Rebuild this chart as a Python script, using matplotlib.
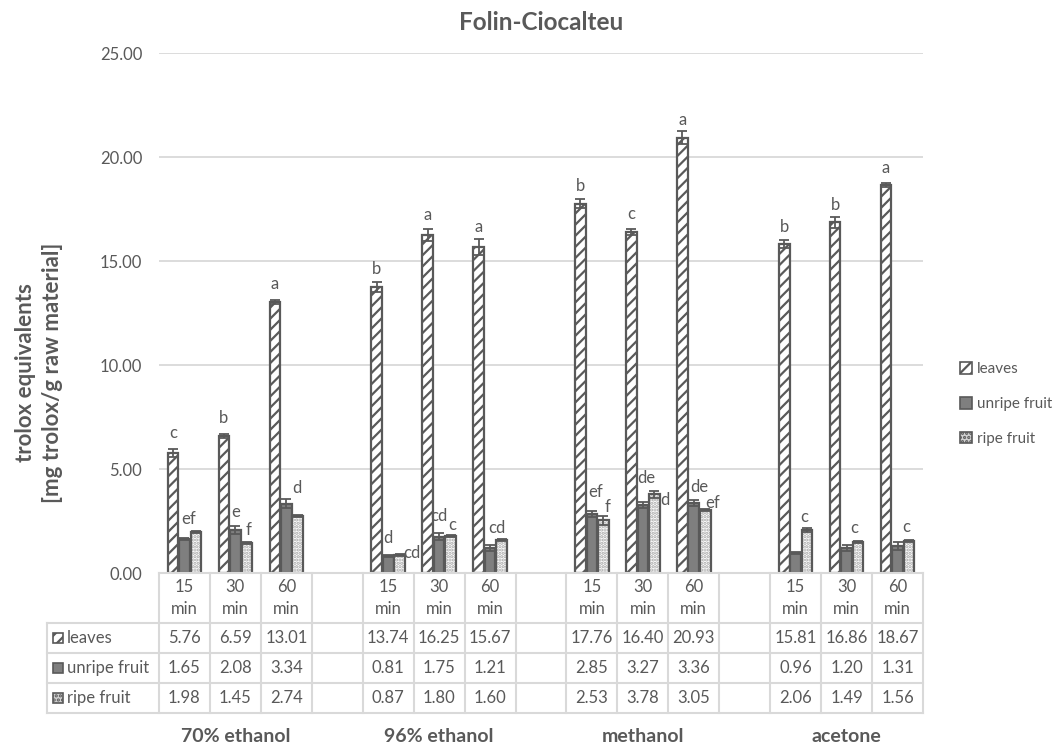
import numpy as np
import matplotlib
matplotlib.use('Agg')
import matplotlib.pyplot as plt
from matplotlib.patches import Patch, Rectangle
from matplotlib.lines import Line2D
from matplotlib import transforms

# data
solvents = ['70% ethanol', '96% ethanol', 'methanol', 'acetone']
times = ['15\nmin', '30\nmin', '60\nmin']
series = ['leaves', 'unripe fruit', 'ripe fruit']

leaves = [5.76, 6.59, 13.01, 13.74, 16.25, 15.67, 17.76, 16.40, 20.93, 15.81, 16.86, 18.67]
unripe = [1.65, 2.08, 3.34, 0.81, 1.75, 1.21, 2.85, 3.27, 3.36, 0.96, 1.20, 1.31]
ripe = [1.98, 1.45, 2.74, 0.87, 1.80, 1.60, 2.53, 3.78, 3.05, 2.06, 1.49, 1.56]

leaves_sd = [0.2, 0.1, 0.1, 0.25, 0.3, 0.38, 0.2, 0.15, 0.3, 0.2, 0.25, 0.1]
unripe_sd = [0.05, 0.2, 0.2, 0.05, 0.15, 0.15, 0.15, 0.15, 0.15, 0.05, 0.15, 0.2]
ripe_sd = [0.05, 0.05, 0.05, 0.05, 0.05, 0.05, 0.2, 0.16, 0.05, 0.1, 0.05, 0.05]

# (sample index, series index, letter, x shift, y shift above error bar)
sig_letters = [
    (0, 0, 'c', 0, 0.75), (0, 1, 'ef', 0.09, 0.9),
    (1, 0, 'b', 0, 0.75), (1, 1, 'e', 0, 0.65), (1, 2, 'f', 0.04, 0.55),
    (2, 0, 'a', 0, 0.8), (2, 1, 'd', 0.2, 0.55),
    (3, 0, 'b', 0, 0.63), (3, 1, 'd', 0, 0.8), (3, 2, 'cd', 0.235, 0.05),
    (4, 0, 'a', 0, 0.66), (4, 1, 'cd', 0, 0.84), (4, 2, 'c', 0.04, 0.46),
    (5, 0, 'a', 0, 0.58), (5, 2, 'cd', -0.1, 0.5),
    (6, 0, 'b', 0, 0.65), (6, 1, 'ef', 0.07, 0.89), (6, 2, 'f', 0.08, 0.42),
    (7, 0, 'c', 0, 0.71), (7, 1, 'de', 0.07, 1.15), (7, 2, 'd', 0.2, -0.45),
    (8, 0, 'a', 0, 0.55), (8, 1, 'de', 0.1, 0.62), (8, 2, 'ef', 0.14, 0.27),
    (9, 0, 'b', 0, 0.62), (9, 2, 'c', -0.06, 0.53),
    (10, 0, 'b', 0, 0.58), (10, 2, 'c', -0.08, 0.62),
    (11, 0, 'a', 0, 0.7), (11, 2, 'c', -0.06, 0.6),
]

plt.rcParams['font.family'] = ['Lato', 'DejaVu Sans']
plt.rcParams['hatch.linewidth'] = 1.6
txt = '#595959'
dark = '#595959'
grid = '#d9d9d9'

W, H = 1056, 753
fig = plt.figure(figsize=(W / 100, H / 100), dpi=100)
ax = fig.add_axes([159 / W, 1 - 573 / H, (923 - 159) / W, 520 / H])

# positions: 3 times per solvent + one empty slot between solvents
pos = np.array([s * 4 + t for s in range(len(solvents)) for t in range(len(times))])
vals = [leaves, unripe, ripe]
sds = [leaves_sd, unripe_sd, ripe_sd]
offs = [-0.225, 0.0, 0.225]
bw = 0.21

ax.bar(pos + offs[0], leaves, bw, color='white', edgecolor=dark, hatch='///', linewidth=1.6, zorder=2)
ax.bar(pos + offs[1], unripe, bw, color='#7f7f7f', edgecolor=dark, linewidth=1.6, zorder=2)
ax.bar(pos + offs[2], ripe, bw, color='white', edgecolor='#a6a6a6', hatch='.....', linewidth=0, zorder=2)
ax.bar(pos + offs[2], ripe, bw, color='none', edgecolor=dark, linewidth=1.6, zorder=2)

for k in range(3):
    ax.errorbar(pos + offs[k], vals[k], yerr=sds[k], fmt='none', ecolor=dark,
                elinewidth=1.3, capsize=3.5, capthick=1.3, zorder=3)

for i, s, lab, dx, dy in sig_letters:
    ax.text(pos[i] + offs[s] + dx, vals[s][i] + sds[s][i] + dy, lab,
            ha='center', va='center', fontsize=12, color=txt, zorder=4)

ax.set_xlim(-0.5, 4 * len(solvents) - 1.5)
ax.set_ylim(0, 25)
ax.set_yticks(np.arange(0, 26, 5))
ax.set_yticklabels(['%.2f' % v for v in np.arange(0, 26, 5)])
ax.tick_params(axis='y', length=0, pad=12, labelsize=12, labelcolor=txt)
ax.set_xticks([])
ax.grid(axis='y', color=grid, linewidth=1.3, zorder=0)
ax.set_axisbelow(True)
for sp in ['top', 'right', 'left']:
    ax.spines[sp].set_visible(False)
ax.spines['bottom'].set_color(grid)
ax.spines['bottom'].set_linewidth(1.5)

fig.text(541 / W, 1 - 22 / H, 'Folin-Ciocalteu', ha='center', va='center',
         fontsize=17.5, fontweight='bold', color=txt)
fig.text(39 / W, 1 - 373 / H, 'trolox equivalents\n[mg trolox/g raw material]',
         rotation=90, ha='center', va='center', fontsize=16, fontweight='bold',
         color=txt, multialignment='center', linespacing=1.3)

# data table below the axis
tr = transforms.blended_transform_factory(ax.transData, fig.transFigure)
fy = lambda p: 1 - p / H
left_x = -0.5 - 112 / 51
right_x = 4 * len(solvents) - 1.5
rows_y = [623, 653, 683, 713]
for k in range(16):
    ax.add_line(Line2D([k - 0.5, k - 0.5], [fy(573), fy(713)], transform=tr,
                       color=grid, lw=1.5, clip_on=False))
ax.add_line(Line2D([left_x, left_x], [fy(623), fy(713)], transform=tr,
                   color=grid, lw=1.5, clip_on=False))
for y in rows_y:
    ax.add_line(Line2D([left_x, right_x], [fy(y), fy(y)], transform=tr,
                       color=grid, lw=1.5, clip_on=False))

for i, p in enumerate(pos):
    ax.text(p, fy(598), times[i % 3], transform=tr, ha='center', va='center',
            fontsize=12, color=txt, linespacing=1.45)
    for r in range(3):
        ax.text(p, fy(rows_y[r] + 15), '%.2f' % vals[r][i], transform=tr,
                ha='center', va='center', fontsize=12, color=txt)

key_style = [dict(facecolor='white', edgecolor=dark, hatch='///'),
             dict(facecolor='#7f7f7f', edgecolor=dark),
             dict(facecolor='#d0d0d0', edgecolor=dark, hatch='....')]
for r in range(3):
    yc = rows_y[r] + 15
    fig.patches.append(Rectangle((53 / W, fy(yc + 5)), 10 / W, 10 / H,
                                 transform=fig.transFigure, linewidth=1.2, **key_style[r]))
    fig.text(67 / W, fy(yc), series[r], ha='left', va='center', fontsize=12, color=txt)

for s, name in enumerate(solvents):
    ax.text(s * 4 + 1, fy(736), name, transform=tr, ha='center', va='center',
            fontsize=14, fontweight='bold', color=txt)

handles = [Patch(linewidth=1.2, **key_style[r]) for r in range(3)]
fig.legend(handles, series, loc='center left', bbox_to_anchor=(952 / W, 1 - 404 / H),
           frameon=False, borderpad=0, handlelength=0.8, handleheight=0.8, labelspacing=1.35,
           handletextpad=0.35, fontsize=11, labelcolor=txt)

fig.savefig('out.png', dpi=100)
